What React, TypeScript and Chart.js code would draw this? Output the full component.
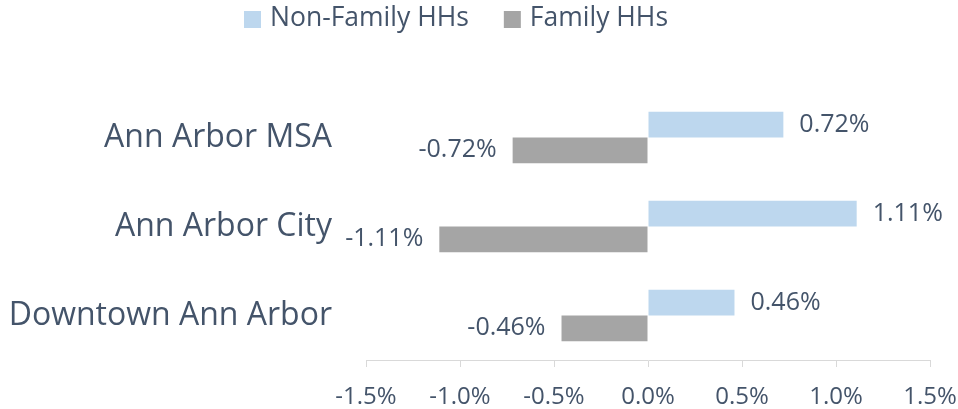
import React, { useEffect, useRef } from "react";
import { Chart, registerables } from "chart.js";

Chart.register(...registerables);

const categories = ["Ann Arbor MSA", "Ann Arbor City", "Downtown Ann Arbor"];
const nonFamily = [0.72, 1.11, 0.46];
const family = [-0.72, -1.11, -0.46];
const seriesNames = ["Non-Family HHs", "Family HHs"];
const seriesColors = ["#bdd7ee", "#a5a5a5"];
const xMin = -1.5;
const xMax = 1.5;
const xStep = 0.5;

const TEXT = "#44546a";
const FONT = "'Open Sans', 'Noto Sans', sans-serif";

const dataLabels = {
  id: "dataLabels",
  afterDatasetsDraw(chart: any) {
    const ctx = chart.ctx;
    ctx.save();
    ctx.font = `25px ${FONT}`;
    ctx.fillStyle = TEXT;
    ctx.textBaseline = "middle";
    chart.data.datasets.forEach((ds: any, di: number) => {
      const meta = chart.getDatasetMeta(di);
      meta.data.forEach((el: any, i: number) => {
        const v = ds.data[i];
        const txt = v.toFixed(2) + "%";
        if (v >= 0) {
          ctx.textAlign = "left";
          ctx.fillText(txt, el.x + 16, el.y);
        } else {
          ctx.textAlign = "right";
          ctx.fillText(txt, el.x - 16, el.y);
        }
      });
    });
    ctx.restore();
  },
};

const customLegend = {
  id: "customLegend",
  afterDraw(chart: any) {
    const ctx = chart.ctx;
    ctx.save();
    ctx.font = `26.5px ${FONT}`;
    ctx.textBaseline = "middle";
    ctx.textAlign = "left";
    const box = 17;
    const gap = 9;
    const itemGap = 35;
    const items = chart.data.datasets.map((d: any) => ({
      label: d.label,
      color: d.backgroundColor,
      w: ctx.measureText(d.label).width,
    }));
    const total =
      items.reduce((s: number, it: any) => s + box + gap + it.w, 0) +
      itemGap * (items.length - 1);
    let x = 456 - total / 2;
    const cy = 19.5;
    items.forEach((it: any) => {
      ctx.fillStyle = it.color;
      ctx.fillRect(x, cy - box / 2, box, box);
      x += box + gap;
      ctx.fillStyle = TEXT;
      ctx.fillText(it.label, x, cy - 1);
      x += it.w + itemGap;
    });
    ctx.restore();
  },
};

export default function App() {
  const ref = useRef<HTMLCanvasElement | null>(null);
  useEffect(() => {
    if (!ref.current) return;
    const chart = new Chart(ref.current, {
      type: "bar",
      data: {
        labels: categories,
        datasets: [
          {
            label: seriesNames[0],
            data: nonFamily,
            backgroundColor: seriesColors[0],
            categoryPercentage: 0.576,
            barPercentage: 1,
          },
          {
            label: seriesNames[1],
            data: family,
            backgroundColor: seriesColors[1],
            categoryPercentage: 0.576,
            barPercentage: 1,
          },
        ],
      },
      options: {
        indexAxis: "y",
        responsive: false,
        animation: false,
        layout: { padding: { top: 93, right: 28, left: 0, bottom: 0 } },
        plugins: {
          legend: { display: false },
          tooltip: { enabled: false },
        },
        scales: {
          x: {
            min: xMin,
            max: xMax,
            grid: {
              display: true,
              drawOnChartArea: false,
              drawTicks: true,
              tickLength: 7,
              color: "#d9d9d9",
            },
            border: { display: true, color: "#d9d9d9", width: 1 },
            ticks: {
              stepSize: xStep,
              color: TEXT,
              font: { family: FONT, size: 24 },
              padding: 16,
              callback: (v: any) => Number(v).toFixed(1) + "%",
            },
            afterFit: (s: any) => {
              s.height = 49;
              s.paddingLeft = 0;
              s.paddingRight = 0;
            },
          },
          y: {
            grid: { display: false, drawTicks: false },
            border: { display: false },
            ticks: {
              color: TEXT,
              font: { family: FONT, size: 32 },
              padding: 34,
            },
            afterFit: (s: any) => {
              s.width = 366;
              s.paddingTop = 0;
              s.paddingBottom = 0;
            },
          },
        },
      },
      plugins: [dataLabels, customLegend],
    });
    return () => chart.destroy();
  }, []);
  return (
    <div style={{ position: "fixed", left: 0, top: 0, width: 958, height: 409, background: "#fff" }}>
      <canvas ref={ref} width={958} height={409} style={{ width: 958, height: 409 }} />
    </div>
  );
}
